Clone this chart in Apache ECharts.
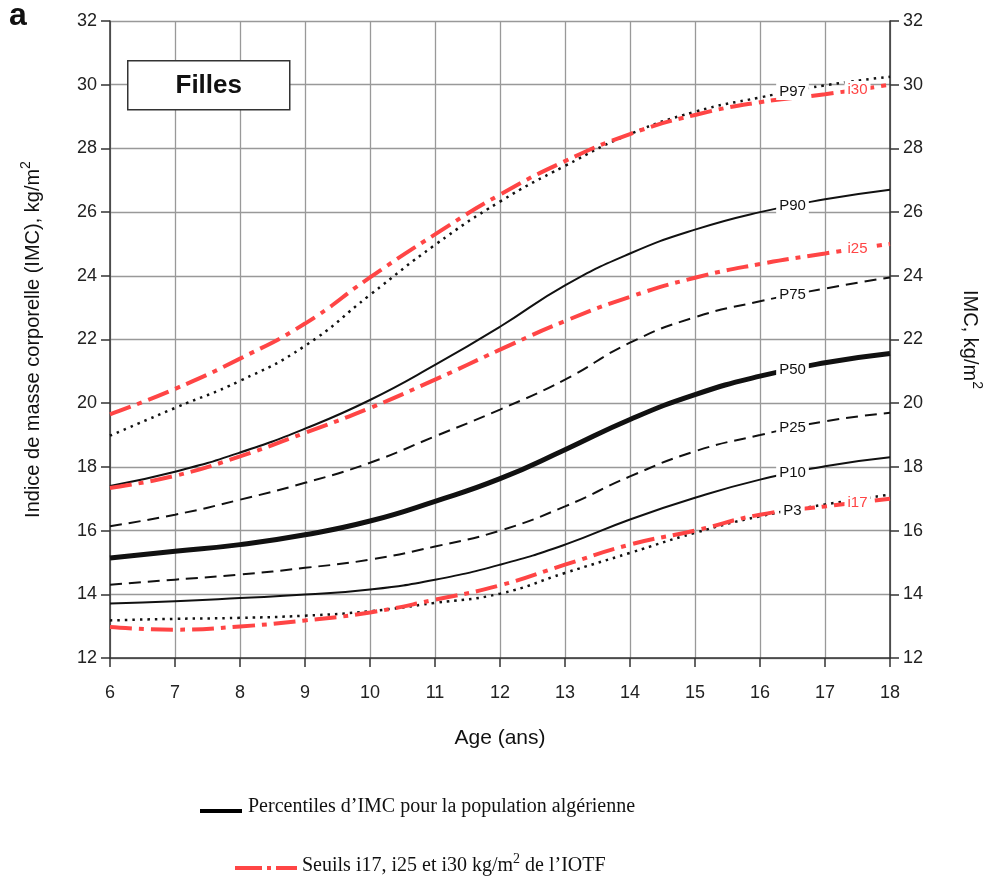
<!DOCTYPE html>
<html>
<head>
<meta charset="utf-8">
<script src="https://cdn.jsdelivr.net/npm/echarts@6/dist/echarts.min.js"></script>
<style>
  html, body { margin: 0; padding: 0; background: #fff; }
  #chart { width: 991px; height: 885px; }
</style>
</head>
<body>
<div id="chart"></div>
<script>
// Ages (years) and BMI curves for girls, kg/m²
const ages = [6, 7, 8, 9, 10, 11, 12, 13, 14, 15, 16, 17, 18];

// Algerian BMI percentiles
const p97 = [18.98, 19.85, 20.7, 21.8, 23.4, 24.97, 26.33, 27.45, 28.45, 29.15, 29.6, 29.98, 30.25];
const p90 = [17.4, 17.85, 18.45, 19.2, 20.1, 21.2, 22.4, 23.7, 24.7, 25.45, 26.0, 26.4, 26.7];
const p75 = [16.14, 16.5, 16.97, 17.5, 18.13, 18.96, 19.8, 20.74, 21.9, 22.7, 23.2, 23.6, 23.95];
const p50 = [15.14, 15.35, 15.56, 15.87, 16.3, 16.92, 17.63, 18.54, 19.49, 20.27, 20.85, 21.27, 21.56];
const p25 = [14.3, 14.46, 14.62, 14.83, 15.09, 15.5, 16.0, 16.76, 17.7, 18.49, 19.0, 19.43, 19.7];
const p10 = [13.71, 13.78, 13.88, 13.99, 14.15, 14.46, 14.93, 15.56, 16.35, 17.03, 17.6, 18.02, 18.3];
const p3  = [13.18, 13.23, 13.26, 13.33, 13.47, 13.73, 14.02, 14.67, 15.3, 15.93, 16.45, 16.82, 17.13];

// IOTF cut-offs
const i30 = [19.65, 20.45, 21.4, 22.5, 23.95, 25.3, 26.55, 27.6, 28.45, 29.05, 29.45, 29.7, 30.0];
const i25 = [17.34, 17.72, 18.33, 19.07, 19.85, 20.74, 21.68, 22.58, 23.34, 23.94, 24.37, 24.7, 25.0];
const i17 = [12.97, 12.89, 12.99, 13.18, 13.43, 13.83, 14.28, 14.93, 15.56, 16.0, 16.5, 16.76, 17.0];

const yTicks = [12, 14, 16, 18, 20, 22, 24, 26, 28, 30, 32];

const RED = '#ff4545';
const BLACK = '#111';
const SANS = '"Liberation Sans", Arial, sans-serif';
const SERIF = '"Liberation Serif", "Times New Roman", serif';

function pairs(vals) { return ages.map((a, i) => [a, vals[i]]); }

// y value of a curve at a fractional age (used for curve label placement)
function at(vals, age) {
  const i = Math.floor(age - ages[0]);
  const f = age - ages[i];
  return vals[i] + (vals[i + 1] - vals[i]) * f;
}

function curve(name, vals, color, width, type) {
  return {
    name, type: 'line', data: pairs(vals),
    smooth: 0.5, showSymbol: false, symbol: 'none',
    lineStyle: { color, width, type, cap: 'butt' },
    z: 3, silent: true
  };
}

const dotted = [2.5, 5];
const dashed = [12, 7];
const dashDot = [22, 7, 5, 7];

const curveLabels = [
  { name: 'P97', v: at(p97, 16.5), x: 16.5, c: BLACK },
  { name: 'P90', v: at(p90, 16.5), x: 16.5, c: BLACK },
  { name: 'P75', v: at(p75, 16.5), x: 16.5, c: BLACK },
  { name: 'P50', v: at(p50, 16.5), x: 16.5, c: BLACK },
  { name: 'P25', v: at(p25, 16.5), x: 16.5, c: BLACK },
  { name: 'P10', v: at(p10, 16.5), x: 16.5, c: BLACK },
  { name: 'P3',  v: at(p3, 16.5),  x: 16.5, c: BLACK },
  { name: 'i30', v: at(i30, 17.5), x: 17.5, c: RED },
  { name: 'i25', v: at(i25, 17.5), x: 17.5, c: RED },
  { name: 'i17', v: at(i17, 17.5), x: 17.5, c: RED }
];

const axisFont = { fontFamily: SANS, fontSize: 18, color: '#222' };
// base text + raised exponent for "kg/m²"
const nameRich = {
  n: { fontFamily: SANS, fontSize: 20, lineHeight: 28, color: '#111' },
  sup: { fontFamily: SANS, fontSize: 14, lineHeight: 14, verticalAlign: 'top', color: '#111' }
};

const chart = echarts.init(document.getElementById('chart'));
chart.setOption({
  animation: false,
  backgroundColor: '#fff',
  grid: { left: 110, right: 101, top: 21, bottom: 227, containLabel: false, outerBoundsMode: 'none' },
  xAxis: {
    type: 'value', min: 6, max: 18, interval: 1,
    name: 'Age (ans)', nameLocation: 'middle', nameGap: 70,
    nameTextStyle: { fontFamily: SANS, fontSize: 21, color: '#111' },
    axisLine: { lineStyle: { color: '#333', width: 1.5 } },
    axisTick: { show: true, length: 9, lineStyle: { color: '#333', width: 1.5 } },
    axisLabel: Object.assign({ margin: 26 }, axisFont),
    splitLine: { show: true, lineStyle: { color: '#999', width: 1.3 } }
  },
  yAxis: [
    {
      type: 'value', min: 12, max: 32, interval: 2, position: 'left',
      name: '{n|Indice de masse corporelle (IMC), kg/m}{sup|2}', nameLocation: 'middle', nameGap: 63, nameRotate: 90,
      nameTextStyle: { rich: nameRich },
      axisLine: { show: true, lineStyle: { color: '#333', width: 1.5 } },
      axisTick: { show: true, length: 9, lineStyle: { color: '#333', width: 1.5 } },
      axisLabel: Object.assign({ margin: 13 }, axisFont),
      splitLine: { show: true, lineStyle: { color: '#999', width: 1.3 } }
    },
    {
      type: 'value', min: 12, max: 32, interval: 2, position: 'right',
      name: '{n|IMC, kg/m}{sup|2}', nameLocation: 'middle', nameGap: 66, nameRotate: -90,
      nameTextStyle: { rich: nameRich },
      axisLine: { show: true, lineStyle: { color: '#333', width: 1.5 } },
      axisTick: { show: true, length: 9, lineStyle: { color: '#333', width: 1.5 } },
      axisLabel: Object.assign({ margin: 13 }, axisFont),
      splitLine: { show: false }
    }
  ],
  series: [
    curve('P97', p97, BLACK, 2.5, dotted),
    curve('P90', p90, BLACK, 2, 'solid'),
    curve('P75', p75, BLACK, 2, dashed),
    curve('P50', p50, BLACK, 5, 'solid'),
    curve('P25', p25, BLACK, 2, dashed),
    curve('P10', p10, BLACK, 2, 'solid'),
    curve('P3', p3, BLACK, 2.5, dotted),
    curve('i30', i30, RED, 4, dashDot),
    curve('i25', i25, RED, 4, dashDot),
    curve('i17', i17, RED, 4, dashDot),
    {
      name: 'labels', type: 'scatter', symbolSize: 1, z: 10, silent: true,
      itemStyle: { opacity: 0 },
      data: curveLabels.map(l => ({
        name: l.name, value: [l.x, l.v],
        label: {
          show: true, position: 'inside', formatter: l.name, opacity: 1,
          color: l.c, fontSize: 15, fontFamily: SANS,
          backgroundColor: '#fff', padding: [1, 3]
        }
      }))
    }
  ],
  graphic: [
    { type: 'text', left: 9, top: 0, z: 100,
      style: { text: 'a', fontFamily: SANS, fontWeight: 'bold', fontSize: 32, fill: '#111' } },
    { type: 'group', left: 127, top: 60, z: 100, children: [
      { type: 'rect', z: 100, shape: { x: 0, y: 0, width: 162, height: 49 },
        style: { fill: '#fff', stroke: '#333', lineWidth: 1.5 } },
      { type: 'text', z: 101, x: 81, y: 25,
        style: { text: 'Filles', fontFamily: SANS, fontWeight: 'bold', fontSize: 26, fill: '#111',
                 align: 'center', verticalAlign: 'middle' } }
    ] },
    // legend: percentile curves
    { type: 'line', shape: { x1: 200, y1: 811, x2: 242, y2: 811 },
      style: { stroke: '#000', lineWidth: 4 } },
    { type: 'text', x: 248, y: 807,
      style: { text: 'Percentiles d’IMC pour la population algérienne',
               fontFamily: SERIF, fontSize: 20, fill: '#111', verticalAlign: 'middle' } },
    // legend: IOTF thresholds
    { type: 'line', shape: { x1: 235, y1: 868, x2: 262, y2: 868 },
      style: { stroke: RED, lineWidth: 4 } },
    { type: 'line', shape: { x1: 267, y1: 868, x2: 271, y2: 868 },
      style: { stroke: RED, lineWidth: 4 } },
    { type: 'line', shape: { x1: 276, y1: 868, x2: 297, y2: 868 },
      style: { stroke: RED, lineWidth: 4 } },
    { type: 'text', x: 302, y: 866,
      style: { text: '{n|Seuils i17, i25 et i30 kg/m}{sup|2}{n| de l’IOTF}',
               verticalAlign: 'middle',
               rich: {
                 n: { fontFamily: SERIF, fontSize: 20, lineHeight: 28, fill: '#111' },
                 sup: { fontFamily: SERIF, fontSize: 14, lineHeight: 14, verticalAlign: 'top', fill: '#111' }
               } } }
  ]
});
</script>
</body>
</html>
